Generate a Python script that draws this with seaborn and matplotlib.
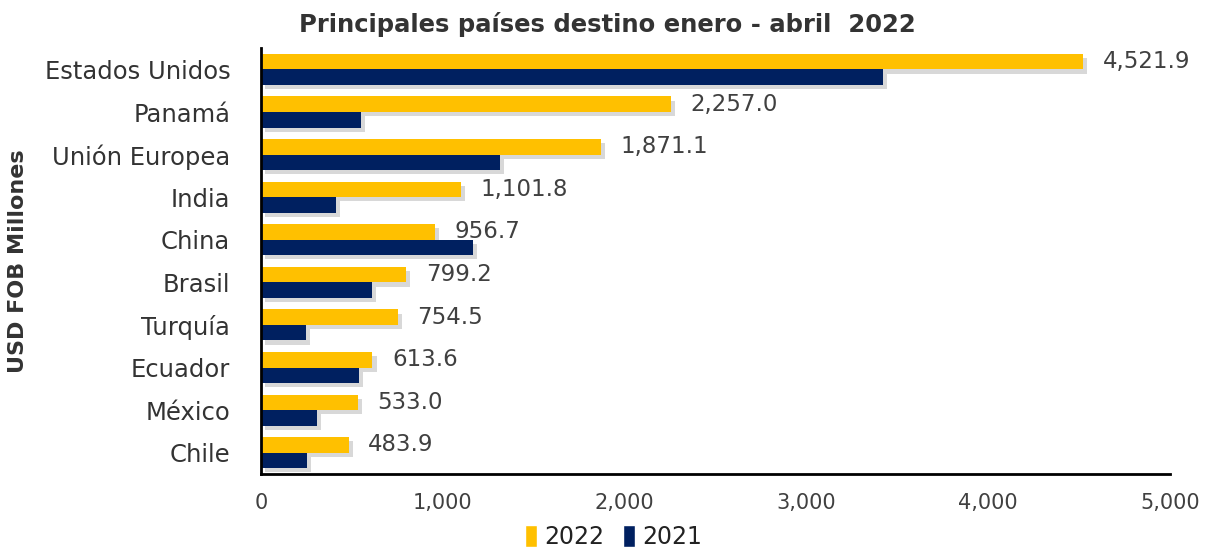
import matplotlib
matplotlib.use("Agg")
import matplotlib.pyplot as plt
import matplotlib.patheffects as pe
import seaborn as sns
import pandas as pd
from matplotlib.ticker import FuncFormatter

categories = ["Estados Unidos", "Panamá", "Unión Europea", "India", "China",
              "Brasil", "Turquía", "Ecuador", "México", "Chile"]
values_2022 = [4521.9, 2257.0, 1871.1, 1101.8, 956.7, 799.2, 754.5, 613.6, 533.0, 483.9]
values_2021 = [3420, 550, 1315, 413, 1166, 610, 248, 539, 308, 253]
years = ["2022", "2021"]

df = pd.DataFrame({
    "pais": categories * 2,
    "valor": values_2022 + values_2021,
    "anio": [years[0]] * len(categories) + [years[1]] * len(categories),
})

sns.set_theme(style="white")
plt.rcParams['font.family'] = ['DejaVu Sans']
text_color = "#404040"

fig = plt.figure(figsize=(12.08, 5.47), dpi=100)
ax = fig.add_axes([0.216, 0.1335, 0.7526, 0.7785])

sns.barplot(data=df, y="pais", x="valor", hue="anio", hue_order=years,
            order=categories, palette={"2022": "#FFC000", "2021": "#002060"},
            orient="h", width=0.73, saturation=1, ax=ax, legend=True)

# data labels on 2022 bars
cont = ax.containers[0]
ax.bar_label(cont, labels=[f"{v:,.1f}" for v in values_2022], padding=14,
             fontsize=16.5, color=text_color)

ax.set_xlim(0, 5000)
ax.set_ylim(9.5, -0.5)
ax.xaxis.set_major_formatter(FuncFormatter(lambda v, _: f"{v:,.0f}"))
ax.set_xticks([0, 1000, 2000, 3000, 4000, 5000])
ax.tick_params(axis="x", labelsize=15, colors=text_color, length=0, pad=14)
ax.tick_params(axis="y", labelsize=17.5, colors="#333333", length=0, pad=22)

ax.set_xlabel("")
ax.set_ylabel("USD FOB Millones", fontsize=16, fontweight="bold", color="#333333")
ax.yaxis.set_label_coords(-0.256, 0.5)

for s in ["top", "right"]:
    ax.spines[s].set_visible(False)
for s in ["left", "bottom"]:
    ax.spines[s].set_color("black")
    ax.spines[s].set_linewidth(2)

fig.suptitle("Principales países destino enero - abril  2022", x=0.503, y=0.978,
             fontsize=17.5, fontweight="bold", color="#333333")

leg = ax.legend(loc="center", bbox_to_anchor=(0.388, -0.148), ncol=2, frameon=False,
                fontsize=17, handlelength=0.5, handleheight=1.1, handletextpad=0.3,
                columnspacing=0.8, borderpad=0)
for t in leg.get_texts():
    t.set_color("#222222")

# soft drop shadow on bars only
shadow = [pe.SimplePatchShadow(offset=(3, -3), shadow_rgbFace="#909090", alpha=0.35), pe.Normal()]
for p in ax.patches:
    p.set_path_effects(shadow)
    p.set_linewidth(0)

fig.savefig("out.png", dpi=100)
